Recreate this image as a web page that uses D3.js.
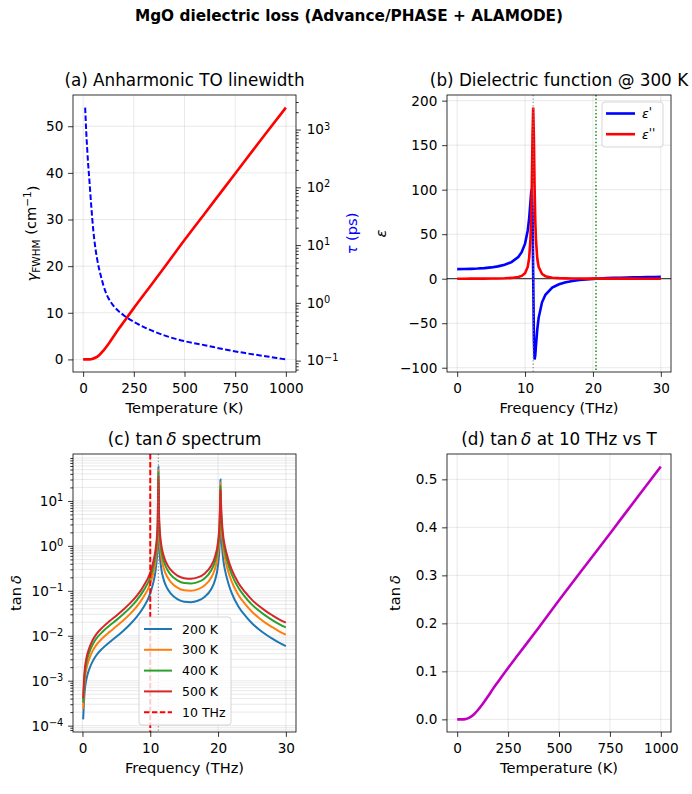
<!DOCTYPE html>
<html>
<head>
<meta charset="utf-8">
<script src="https://cdn.jsdelivr.net/npm/d3@7"></script>
<style>
  body { margin: 0; background: #fff; }
  text { font-family: "DejaVu Sans", sans-serif; fill: #000; }
</style>
</head>
<body>
<svg id="fig" width="692" height="794"></svg>
<script>
// ---------- data ----------
// (a) TO linewidth (cm^-1) and lifetime (ps) vs temperature
const tempGamma = [0, 20, 40, 60, 80, 100, 125, 150, 175, 200, 250, 300, 400, 500, 600, 700, 800, 900, 1000];
const gammaFWHM = [0, 0.0, 0.05, 0.35, 0.95, 1.9, 3.3, 4.9, 6.5, 8.0, 11.0, 13.9, 19.7, 25.6, 31.3, 37.0, 42.7, 48.4, 54.0];
const tempTau = [10, 15, 20, 25, 30, 40, 50, 60, 70, 80, 90, 100, 125, 150, 200, 250, 300, 400, 500, 600, 700, 800, 900, 1000];
const tauPs = [2400, 960, 460, 245, 145, 48, 18.2, 9.1, 5.5, 3.7, 2.7, 2.0, 1.2, 0.89, 0.61, 0.47, 0.38, 0.274, 0.217, 0.185, 0.156, 0.135, 0.119, 0.105];

// (b) dielectric function at 300 K
const freqEps = [0, 1, 2, 3, 4, 5, 6, 7, 8, 9, 9.5, 10, 10.4, 10.6, 10.8, 10.9, 11.0, 11.1, 11.2, 11.3, 11.4, 11.5, 11.6, 11.8,
  12, 12.5, 13, 14, 15, 16, 17, 18, 19, 20, 21, 22, 23, 24, 25, 26, 27, 28, 29, 30];
const epsReal = [10.8, 10.86, 11.05, 11.38, 11.90, 12.68, 13.84, 15.62, 18.61, 24.39, 29.79, 39.40, 54.47, 67.49, 86.58, 97.03,
  100.7, 76.53, 3.25, -68.31, -90.65, -86.35, -75.83, -56.87, -43.96, -26.54, -18.12, -10.07, -6.22, -3.98, -2.54, -1.52,
  -0.77, -0.20, 0.25, 0.61, 0.90, 1.15, 1.35, 1.53, 1.68, 1.81, 1.93, 2.03];
const epsImag = [0, 0.027, 0.057, 0.092, 0.139, 0.207, 0.313, 0.498, 0.880, 1.88, 3.15, 6.25, 13.56, 22.91, 45.0, 67.8,
  106.3, 160.5, 192.2, 158.1, 104.2, 66.6, 44.3, 22.6, 13.4, 5.32, 2.81, 1.16, 0.63, 0.39, 0.265, 0.19, 0.143, 0.111,
  0.088, 0.071, 0.059, 0.049, 0.042, 0.036, 0.031, 0.027, 0.024, 0.021];
const fTO = 11.2;
const fLO = 20.45;

// (c) tan delta spectra
const freqLoss = [0.1, 0.3, 0.6, 1, 1.5, 2, 3, 4, 5, 6, 7, 8, 9, 10, 10.5, 10.8, 11.0, 11.1, 11.2, 11.3, 11.4, 11.6, 12, 12.5, 13,
  14, 15, 16, 17, 18, 19, 19.5, 20, 20.2, 20.3, 20.35, 20.4, 20.5, 20.6, 20.8, 21, 21.5, 22, 23, 24, 25, 26, 27, 28, 29, 30];
const tan200K = [1.38e-4, 5.2e-4, 1.1e-3, 1.8e-3, 2.7e-3, 3.6e-3, 5.3e-3, 7.2e-3, 9.5e-3, 0.0128, 0.0178, 0.0262, 0.043, 0.088,
  0.164, 0.297, 0.607, 1.22, 58, 1.28, 0.645, 0.33, 0.173, 0.114, 0.088, 0.0657, 0.0574, 0.056, 0.060, 0.0727, 0.110, 0.164,
  0.377, 0.874, 2.75, 30, 3.5, 1.6, 0.9, 0.45, 0.30, 0.15, 0.09, 0.045, 0.028, 0.019, 0.014, 0.0108, 0.0086, 0.0070, 0.0059];
const tan300K = [2.35e-4, 8.8e-4, 1.87e-3, 3.06e-3, 4.6e-3, 6.1e-3, 9.0e-3, 0.0122, 0.0162, 0.0218, 0.0303, 0.0445, 0.073, 0.146,
  0.27, 0.488, 0.99, 1.97, 50, 2.37, 1.18, 0.598, 0.313, 0.205, 0.159, 0.118, 0.103, 0.101, 0.108, 0.131, 0.198, 0.295,
  0.68, 1.57, 4.95, 26, 6.3, 2.88, 1.62, 0.81, 0.54, 0.27, 0.162, 0.081, 0.0504, 0.0342, 0.0252, 0.0194, 0.0155, 0.0126, 0.0106];
const tan400K = [3.25e-4, 1.22e-3, 2.59e-3, 4.23e-3, 6.35e-3, 8.46e-3, 0.01246, 0.01692, 0.0223, 0.0301, 0.0418, 0.0616, 0.101, 0.200,
  0.375, 0.675, 1.36, 2.67, 44, 3.59, 1.74, 0.873, 0.455, 0.298, 0.230, 0.171, 0.149, 0.146, 0.156, 0.189, 0.286, 0.426,
  0.98, 2.27, 7.15, 22, 9.1, 4.16, 2.34, 1.17, 0.78, 0.39, 0.234, 0.117, 0.0728, 0.0494, 0.0364, 0.0281, 0.0224, 0.0182, 0.0153];
const tan500K = [4.07e-4, 1.53e-3, 3.25e-3, 5.31e-3, 7.97e-3, 0.0106, 0.0156, 0.0212, 0.0280, 0.0378, 0.0525, 0.0773, 0.127, 0.255,
  0.478, 0.858, 1.71, 3.30, 36, 4.87, 2.29, 1.13, 0.585, 0.382, 0.295, 0.218, 0.191, 0.186, 0.199, 0.241, 0.365, 0.544,
  1.25, 2.90, 9.13, 18, 11.6, 5.31, 2.99, 1.49, 1.0, 0.50, 0.299, 0.149, 0.093, 0.063, 0.0465, 0.0359, 0.0286, 0.0232, 0.0196];
const lossLabels = ["200 K", "300 K", "400 K", "500 K"];
const fProbe = 10;

// (d) tan delta at 10 THz vs temperature
const tempLoss = [0, 20, 40, 60, 80, 100, 125, 150, 175, 200, 250, 300, 400, 500, 600, 700, 800, 900, 1000];
const tanAt10 = [0, 0.0, 0.0005, 0.0035, 0.0095, 0.0185, 0.032, 0.047, 0.063, 0.078, 0.107, 0.135, 0.191, 0.248, 0.304, 0.359, 0.415, 0.471, 0.5265];

// ---------- layout ----------
const svg = d3.select("#fig");
const boxA = { l: 73, r: 296, t: 95, b: 372 };
const boxB = { l: 447, r: 671, t: 95, b: 372 };
const boxC = { l: 73, r: 296, t: 454, b: 732 };
const boxD = { l: 447, r: 671, t: 454, b: 732 };
const TICK = 4.9, MINOR = 2.7, FS = 13.6, LFS = 14.6;
const tab = ["#1f77b4", "#ff7f0e", "#2ca02c", "#d62728"];

function padLin(lo, hi) { const p = (hi - lo) * 0.05; return [lo - p, hi + p]; }
function padLog(lo, hi) {
  const a = Math.log10(lo), b = Math.log10(hi), p = (b - a) * 0.05;
  return [Math.pow(10, a - p), Math.pow(10, b + p)];
}
function minorLogTicks(dom) {
  const out = [];
  for (let e = Math.floor(Math.log10(dom[0])); e <= Math.ceil(Math.log10(dom[1])); e++)
    for (let m = 2; m <= 9; m++) {
      const v = m * Math.pow(10, e);
      if (v >= dom[0] && v <= dom[1]) out.push(v);
    }
  return out;
}

let clipId = 0;
function clipFor(box) {
  const id = "clip" + (clipId++);
  svg.append("clipPath").attr("id", id).append("rect")
    .attr("x", box.l).attr("y", box.t).attr("width", box.r - box.l).attr("height", box.b - box.t);
  return "url(#" + id + ")";
}

function grid(box, x, y, xv, yv) {
  const g = svg.append("g").attr("stroke", "#b0b0b0").attr("stroke-opacity", 0.35).attr("stroke-width", 0.8);
  xv.forEach(v => g.append("line").attr("x1", x(v)).attr("x2", x(v)).attr("y1", box.t).attr("y2", box.b));
  yv.forEach(v => g.append("line").attr("y1", y(v)).attr("y2", y(v)).attr("x1", box.l).attr("x2", box.r));
}

function styleAxis(g) {
  g.select(".domain").remove();
  g.selectAll(".tick line").attr("stroke", "#000").attr("stroke-width", 0.8);
  g.selectAll(".tick text").attr("font-size", FS).attr("font-family", "DejaVu Sans").attr("fill", "#000");
  return g;
}

function logLabels(g) {
  g.selectAll(".tick text").each(function (d) {
    const e = Math.round(Math.log10(d));
    const t = d3.select(this).text("");
    t.append("tspan").text("10");
    t.append("tspan").attr("dy", "-0.5em").attr("font-size", "0.72em").text(e < 0 ? "\u2212" + (-e) : String(e));
  });
}

function frame(box) {
  svg.append("rect").attr("x", box.l).attr("y", box.t).attr("width", box.r - box.l).attr("height", box.b - box.t)
    .attr("fill", "none").attr("stroke", "#000").attr("stroke-width", 0.8);
}

function title(box, build) {
  const t = svg.append("text").attr("x", (box.l + box.r) / 2).attr("y", box.t - 9)
    .attr("text-anchor", "middle").attr("font-size", 16.8);
  build(t);
}
function xLabel(box, txt) {
  svg.append("text").attr("x", (box.l + box.r) / 2).attr("y", box.b + 41)
    .attr("text-anchor", "middle").attr("font-size", LFS).text(txt);
}
function yLabel(x, box, build, color) {
  const t = svg.append("text").attr("transform", `translate(${x},${(box.t + box.b) / 2}) rotate(-90)`)
    .attr("text-anchor", "middle").attr("font-size", LFS);
  if (color) t.style("fill", color);
  build(t);
}
function tanDelta(t) {
  t.append("tspan").text("tan\u2009");
  t.append("tspan").attr("font-style", "italic").text("\u03b4");
}

function legend(x, y, w, h, items, row0, rowH, hx0, hx1, tx) {
  const lg = svg.append("g");
  lg.append("rect").attr("x", x).attr("y", y).attr("width", w).attr("height", h).attr("rx", 3)
    .attr("fill", "#fff").attr("fill-opacity", 0.8).attr("stroke", "#cccccc").attr("stroke-width", 0.8);
  items.forEach((it, i) => {
    const cy = row0 + i * rowH;
    lg.append("line").attr("x1", hx0).attr("x2", hx1).attr("y1", cy).attr("y2", cy)
      .attr("stroke", it.color).attr("stroke-width", it.width).attr("stroke-dasharray", it.dash || null);
    const t = lg.append("text").attr("x", tx).attr("y", cy).attr("dy", "0.36em").attr("font-size", 12.5);
    it.label(t);
  });
}

// suptitle
svg.append("text").attr("x", 349).attr("y", 21).attr("text-anchor", "middle")
  .attr("font-size", 15.3).attr("font-weight", "bold").text("MgO dielectric loss (Advance/PHASE + ALAMODE)");

// ---------- (a) linewidth + lifetime ----------
{
  const box = boxA;
  const x = d3.scaleLinear().domain(padLin(0, 1000)).range([box.l, box.r]);
  const y = d3.scaleLinear().domain(padLin(0, d3.max(gammaFWHM))).range([box.b, box.t]);
  const yTau = d3.scaleLog().domain(padLog(d3.min(tauPs), d3.max(tauPs))).range([box.b, box.t]);
  const xt = [0, 250, 500, 750, 1000], yt = [0, 10, 20, 30, 40, 50];
  grid(box, x, y, xt, yt);
  const clip = clipFor(box);

  const ptsG = tempGamma.map((t, i) => [t, gammaFWHM[i]]);
  svg.append("path").attr("clip-path", clip).attr("fill", "none").attr("stroke", "#ff0000").attr("stroke-width", 2.6)
    .attr("d", d3.line().x(d => x(d[0])).y(d => y(d[1])).curve(d3.curveMonotoneX)(ptsG));
  const ptsT = tempTau.map((t, i) => [t, tauPs[i]]);
  svg.append("path").attr("clip-path", clip).attr("fill", "none").attr("stroke", "#0000ff").attr("stroke-width", 2)
    .attr("stroke-dasharray", "5.5,2.4")
    .attr("d", d3.line().x(d => x(d[0])).y(d => yTau(d[1])).curve(d3.curveMonotoneX)(ptsT));

  styleAxis(svg.append("g").attr("transform", `translate(0,${box.b})`)
    .call(d3.axisBottom(x).tickValues(xt).tickSize(TICK).tickPadding(6.5).tickFormat(d3.format("d"))));
  styleAxis(svg.append("g").attr("transform", `translate(${box.l},0)`)
    .call(d3.axisLeft(y).tickValues(yt).tickSize(TICK).tickPadding(4.8)));
  styleAxis(svg.append("g").attr("transform", `translate(${box.r},0)`)
    .call(d3.axisRight(yTau).tickValues(minorLogTicks(yTau.domain())).tickSize(MINOR).tickFormat("")));
  const ra = styleAxis(svg.append("g").attr("transform", `translate(${box.r},0)`)
    .call(d3.axisRight(yTau).tickValues([0.1, 1, 10, 100, 1000]).tickSize(TICK).tickPadding(5.8)));
  ra.selectAll(".tick text").attr("fill", "#0000ff");
  logLabels(ra);
  frame(box);

  title(box, t => t.text("(a) Anharmonic TO linewidth"));
  xLabel(box, "Temperature (K)");
  yLabel(37, box, t => {
    t.append("tspan").attr("font-style", "italic").text("\u03b3");
    t.append("tspan").attr("font-size", "0.72em").attr("dy", "0.3em").text("FWHM");
    t.append("tspan").attr("dy", "-0.3em").text(" (cm");
    t.append("tspan").attr("font-size", "0.72em").attr("dy", "-0.5em").text("\u22121");
    t.append("tspan").attr("dy", "0.5em").text(")");
  });
  yLabel(357, box, t => {
    t.append("tspan").attr("font-style", "italic").text("\u03c4");
    t.append("tspan").text(" (ps)");
  }, "#0000ff");
}

// ---------- (b) dielectric function ----------
{
  const box = boxB;
  const x = d3.scaleLinear().domain(padLin(0, 30)).range([box.l, box.r]);
  const lo = Math.min(d3.min(epsReal), d3.min(epsImag)), hi = Math.max(d3.max(epsReal), d3.max(epsImag));
  const y = d3.scaleLinear().domain(padLin(lo, hi)).range([box.b, box.t]);
  const xt = [0, 10, 20, 30], yt = [-100, -50, 0, 50, 100, 150, 200];
  grid(box, x, y, xt, yt);
  const clip = clipFor(box);

  svg.append("line").attr("x1", box.l).attr("x2", box.r).attr("y1", y(0)).attr("y2", y(0))
    .attr("stroke", "#000").attr("stroke-width", 0.9);
  const line = d3.line().x(d => x(d[0])).y(d => y(d[1]));
  svg.append("path").attr("clip-path", clip).attr("fill", "none").attr("stroke", "#0000ff").attr("stroke-width", 2.6)
    .attr("d", line(freqEps.map((f, i) => [f, epsReal[i]])));
  svg.append("path").attr("clip-path", clip).attr("fill", "none").attr("stroke", "#ff0000").attr("stroke-width", 2.6)
    .attr("d", line(freqEps.map((f, i) => [f, epsImag[i]])));
  svg.append("line").attr("x1", x(fTO)).attr("x2", x(fTO)).attr("y1", box.t).attr("y2", box.b)
    .attr("stroke", "#808080").attr("stroke-width", 1.3).attr("stroke-dasharray", "1.3,2.1").attr("opacity", 0.8);
  svg.append("line").attr("x1", x(fLO)).attr("x2", x(fLO)).attr("y1", box.t).attr("y2", box.b)
    .attr("stroke", "#008000").attr("stroke-width", 1.4).attr("stroke-dasharray", "1.4,2.2");

  styleAxis(svg.append("g").attr("transform", `translate(0,${box.b})`)
    .call(d3.axisBottom(x).tickValues(xt).tickSize(TICK).tickPadding(6.5)));
  const la = styleAxis(svg.append("g").attr("transform", `translate(${box.l},0)`)
    .call(d3.axisLeft(y).tickValues(yt).tickSize(TICK).tickPadding(4.8)));
  la.selectAll(".tick text").text(d => d < 0 ? "\u2212" + (-d) : d);
  frame(box);

  const prime = (t, p) => {
    t.append("tspan").attr("font-style", "italic").text("\u03b5");
    t.append("tspan").attr("font-style", "italic").attr("font-size", "0.95em").attr("dy", "-0.15em").text(p);
  };
  legend(602, 102, 61, 45, [
    { color: "#0000ff", width: 2.6, label: t => prime(t, "'") },
    { color: "#ff0000", width: 2.6, label: t => prime(t, "''") }
  ], 113.5, 20.7, 606, 635, 642);

  title(box, t => t.text("(b) Dielectric function @ 300 K"));
  xLabel(box, "Frequency (THz)");
  yLabel(386, box, t => t.append("tspan").attr("font-style", "italic").text("\u03b5"));
}

// ---------- (c) tan delta spectrum ----------
{
  const box = boxC;
  const series = [tan200K, tan300K, tan400K, tan500K];
  const x = d3.scaleLinear().domain(padLin(d3.min(freqLoss), d3.max(freqLoss))).range([box.l, box.r]);
  const all = series.flat();
  const y = d3.scaleLog().domain(padLog(d3.min(all), d3.max(all))).range([box.b, box.t]);
  const xt = [0, 10, 20, 30], majors = [1e-4, 1e-3, 1e-2, 1e-1, 1, 10];
  const minors = minorLogTicks(y.domain());
  grid(box, x, y, xt, majors.concat(minors));
  const clip = clipFor(box);

  const line = d3.line().x(d => x(d[0])).y(d => y(d[1])).curve(d3.curveMonotoneX);
  series.forEach((s, k) => {
    svg.append("path").attr("clip-path", clip).attr("fill", "none").attr("stroke", tab[k]).attr("stroke-width", 2)
      .attr("d", line(freqLoss.map((f, i) => [f, s[i]])));
  });
  svg.append("line").attr("x1", x(fProbe)).attr("x2", x(fProbe)).attr("y1", box.t).attr("y2", box.b)
    .attr("stroke", "#ff0000").attr("stroke-width", 2).attr("stroke-dasharray", "5.5,2.4");
  svg.append("line").attr("x1", x(fTO)).attr("x2", x(fTO)).attr("y1", box.t).attr("y2", box.b)
    .attr("stroke", "#808080").attr("stroke-width", 1.3).attr("stroke-dasharray", "1.3,2.1").attr("opacity", 0.8);

  styleAxis(svg.append("g").attr("transform", `translate(0,${box.b})`)
    .call(d3.axisBottom(x).tickValues(xt).tickSize(TICK).tickPadding(6.5)));
  styleAxis(svg.append("g").attr("transform", `translate(${box.l},0)`)
    .call(d3.axisLeft(y).tickValues(minors).tickSize(MINOR).tickFormat("")));
  const la = styleAxis(svg.append("g").attr("transform", `translate(${box.l},0)`)
    .call(d3.axisLeft(y).tickValues(majors).tickSize(TICK).tickPadding(4.8)));
  logLabels(la);
  frame(box);

  const items = lossLabels.map((lab, k) => ({ color: tab[k], width: 2, label: t => t.text(lab) }));
  items.push({ color: "#ff0000", width: 2, dash: "5.5,2.4", label: t => t.text(fProbe + " THz") });
  legend(139, 617, 92, 108, items, 629, 20.8, 144, 172, 182);

  title(box, t => { t.append("tspan").text("(c) "); tanDelta(t); t.append("tspan").text(" spectrum"); });
  xLabel(box, "Frequency (THz)");
  yLabel(21, box, tanDelta);
}

// ---------- (d) tan delta at 10 THz vs T ----------
{
  const box = boxD;
  const x = d3.scaleLinear().domain(padLin(0, 1000)).range([box.l, box.r]);
  const y = d3.scaleLinear().domain(padLin(0, d3.max(tanAt10))).range([box.b, box.t]);
  const xt = [0, 250, 500, 750, 1000], yt = [0, 0.1, 0.2, 0.3, 0.4, 0.5];
  grid(box, x, y, xt, yt);
  const clip = clipFor(box);
  svg.append("path").attr("clip-path", clip).attr("fill", "none").attr("stroke", "#bf00bf").attr("stroke-width", 2.6)
    .attr("d", d3.line().x(d => x(d[0])).y(d => y(d[1])).curve(d3.curveMonotoneX)(tempLoss.map((t, i) => [t, tanAt10[i]])));

  styleAxis(svg.append("g").attr("transform", `translate(0,${box.b})`)
    .call(d3.axisBottom(x).tickValues(xt).tickSize(TICK).tickPadding(6.5).tickFormat(d3.format("d"))));
  styleAxis(svg.append("g").attr("transform", `translate(${box.l},0)`)
    .call(d3.axisLeft(y).tickValues(yt).tickSize(TICK).tickPadding(4.8).tickFormat(d3.format(".1f"))));
  frame(box);

  title(box, t => { t.append("tspan").text("(d) "); tanDelta(t); t.append("tspan").text(" at 10 THz vs T"); });
  xLabel(box, "Temperature (K)");
  yLabel(400, box, tanDelta);
}
</script>
</body>
</html>
